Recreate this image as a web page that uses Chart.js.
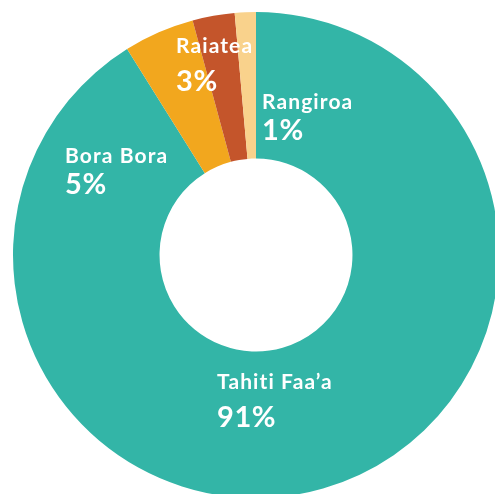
<!DOCTYPE html>
<html>
<head>
<meta charset="utf-8">
<script src="https://cdn.jsdelivr.net/npm/chart.js@4/dist/chart.umd.min.js"></script>
<style>
  html, body { margin: 0; padding: 0; background: #fff; overflow: hidden; }
  #wrap { width: 495px; height: 494px; overflow: hidden; position: relative; }
  #chart { position: absolute; left: 0; top: 0; }
</style>
</head>
<body>
<div id="wrap"><canvas id="chart" width="512" height="511"></canvas></div>
<script>
'use strict';

// airports, clockwise from 12 o'clock
const airports = ['Tahiti Faa’a', 'Bora Bora', 'Raiatea', 'Rangiroa'];
const shares = [91.1, 4.7, 2.8, 1.4];
const shownPct = ['91%', '5%', '3%', '1%'];
const sliceColors = ['#33b5a7', '#f2a71e', '#c4552b', '#f9d28c'];

// where each label sits (left x, baselines for name and percent)
const labelSpots = [
    { x: 217, nameY: 389, pctY: 427 },
    { x: 65, nameY: 163, pctY: 194 },
    { x: 176, nameY: 53, pctY: 91 },
    { x: 262, nameY: 109, pctY: 140 },
];

const labelPlugin = {
    id: 'sliceLabels',
    afterDatasetsDraw(chart) {
        const ctx = chart.ctx;
        ctx.save();
        ctx.fillStyle = '#ffffff';
        ctx.textAlign = 'left';
        ctx.textBaseline = 'alphabetic';
        airports.forEach((name, i) => {
            const spot = labelSpots[i];
            ctx.font = '700 21px Lato';
            ctx.letterSpacing = '1.1px';
            ctx.fillText(name, spot.x, spot.nameY);
            ctx.font = '700 29px Lato';
            ctx.letterSpacing = '0.6px';
            ctx.fillText(shownPct[i], spot.x, spot.pctY);
        });
        ctx.restore();
    }
};

new Chart(document.getElementById('chart').getContext('2d'), {
    type: 'doughnut',
    data: {
        labels: airports,
        datasets: [{
            data: shares,
            backgroundColor: sliceColors,
            borderWidth: 0,
        }]
    },
    options: {
        responsive: false,
        animation: false,
        cutout: '39.7%',
        rotation: 0,
        layout: { padding: { left: 13, right: 13, top: 12, bottom: 13 } },
        plugins: {
            legend: { display: false },
            tooltip: { enabled: false },
        }
    },
    plugins: [labelPlugin]
});
</script>
</body>
</html>
